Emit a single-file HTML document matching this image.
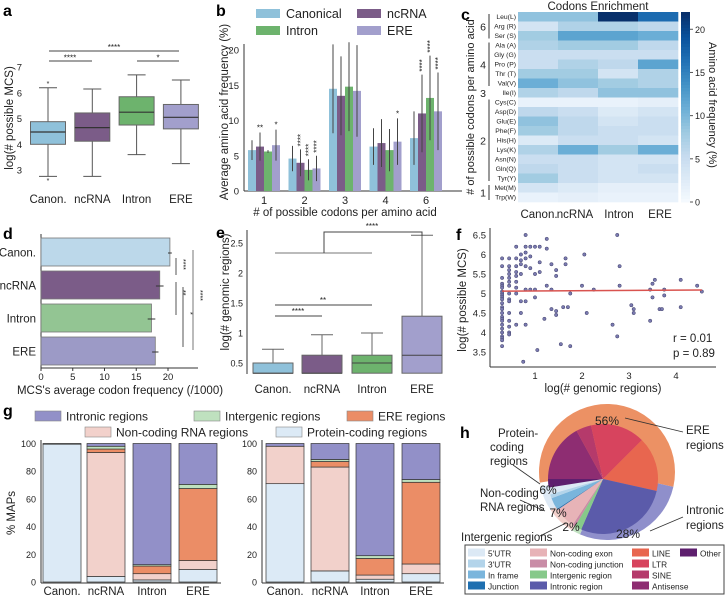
<!DOCTYPE html>
<html><head><meta charset="utf-8">
<style>
html,body{margin:0;padding:0;background:#fff;}
svg{display:block;font-family:"Liberation Sans",Arial,sans-serif;}
</style></head>
<body>
<svg id="fig" width="725" height="595" viewBox="0 0 725 595" xmlns="http://www.w3.org/2000/svg"></svg>
<script>
// ---------- DATA ----------
const aCats=['Canon.','ncRNA','Intron','ERE'];
const aQ1=[4.0,4.12,4.75,4.6];
const aMed=[4.48,4.65,5.25,5.05];
const aQ3=[4.88,5.22,5.85,5.55];
const aLo=[2.75,2.75,3.6,3.25];
const aHi=[6.2,6.15,6.7,6.5];
const aTicks=[3,4,5,6,7];

const bGroups=['1','2','3','4','6'];
const bCan=[5.8,4.6,14.5,6.3,7.5];
const bNc=[6.3,4.0,13.5,6.8,11.0];
const bInt=[5.6,3.0,14.8,5.8,13.2];
const bEre=[6.5,3.2,14.2,7.0,11.3];
const bCanErr=[1.4,1.8,6.3,2.6,3.8];
const bNcErr=[2.0,1.9,5.6,3.4,5.5];
const bIntErr=[0.2,1.5,6.3,3.0,6.0];
const bEreErr=[2.2,1.8,6.5,3.3,5.5];
const bNcStar=['**','****','','','****'];
const bIntStar=['','****','','','****'];
const bEreStar=['*','****','','*','****'];
const bTicks=[0,5,10,15,20];

const cRows=['Leu(L)','Arg (R)','Ser (S)','Ala (A)','Gly (G)','Pro (P)','Thr (T)','Val(V)','Ile(I)','Cys(C)','Asp(D)','Glu(E)','Phe(F)','His(H)','Lys(K)','Asn(N)','Gln(Q)','Tyr(Y)','Met(M)','Trp(W)'];
const cCols=['Canon.','ncRNA','Intron','ERE'];
const cCan=[9,4,8,7,5,5,8,11,7,1.5,6,9,8,3,7,5,6,8,4,1.5];
const cNc=[9,7,12,8,5,7,8,9,6,1.5,5,6,6,5,11,5,5,5,3,2];
const cInt=[22,7,12,8,5,6,4,8,9,1.5,3,4,5,5,8,4,4,4,2,1.5];
const cEre=[17,6,11,6,5,12,7,7,9,2,4,5,5,4,11,4,5,4,2,1.5];
const cTicks=[0,5,10,15,20];

const dCats=['Canon.','ncRNA','Intron','ERE'];
const dVals=[20.3,18.7,17.4,18.0];
const dErr=[0.3,0.6,0.6,0.5];
const dTicks=[0,5,10,15,20];

const eCats=['Canon.','ncRNA','Intron','ERE'];
const eQ1=[0.33,0.33,0.33,0.33];
const eMed=[0.33,0.33,0.5,0.63];
const eQ3=[0.5,0.63,0.63,1.28];
const eHi=[0.73,0.97,1.0,2.63];
const eTicks=[0.5,1,1.5,2,2.5];

const fx=[0.3,0.3,0.3,0.3,0.3,0.3,0.3,0.3,0.3,0.3,0.3,0.3,0.3,0.3,0.3,0.3,0.3,0.3,0.3,0.3,0.3,0.3,0.3,0.3,0.3,
0.45,0.45,0.45,0.45,0.45,0.45,0.45,0.45,0.45,0.45,0.45,0.45,0.45,0.45,0.45,
0.6,0.6,0.6,0.6,0.6,0.6,0.6,0.6,0.6,0.7,0.7,0.7,0.7,0.7,0.7,
0.8,0.8,0.8,0.8,0.8,0.8,0.8,0.8,0.75,0.9,0.9,0.9,0.9,1.0,1.0,1.0,1.0,1.05,1.1,1.1,1.1,
1.25,1.25,1.25,1.2,1.35,1.35,1.35,1.45,1.45,1.45,1.45,1.65,1.65,1.6,1.55,1.7,1.75,1.75,
2.05,2.0,2.1,2.25,2.65,2.75,2.75,2.8,2.8,3.05,3.1,3.1,3.45,3.45,3.5,3.5,3.55,3.65,3.7,3.75,3.75,4.1,4.1,4.45,4.55];
const fy=[5.9,5.7,5.4,5.25,5.2,5.15,5.05,5.0,4.95,4.9,4.85,4.75,4.65,4.6,4.5,4.4,4.35,4.3,4.2,4.1,4.0,3.9,3.85,3.8,3.65,
5.9,5.7,5.6,5.5,5.4,5.3,5.2,5.0,4.85,4.8,4.5,4.3,4.15,4.0,3.95,
6.2,5.9,5.7,5.55,5.45,5.3,5.15,5.0,4.2,5.85,5.75,5.5,4.8,4.5,6.0,
6.5,6.2,6.05,5.9,5.7,5.1,4.8,4.2,3.25,6.2,5.95,5.65,5.1,6.2,5.5,4.9,5.1,3.55,5.8,5.55,6.2,
6.4,6.15,5.2,4.35,4.6,5.1,5.75,5.6,5.45,4.55,4.45,5.9,5.75,4.65,3.7,4.65,3.65,5.0,
6.0,5.2,4.5,5.1,4.2,6.5,3.9,5.7,5.2,4.7,4.5,4.6,4.3,5.1,4.9,5.25,5.35,4.6,4.6,5.1,4.95,5.35,4.65,5.2,5.05];
const fTicksX=[1,2,3,4];
const fTicksY=[3.5,4,4.5,5,5.5,6,6.5];
const fFit=[5.06,5.09];

const gCats=['Canon.','ncRNA','Intron','ERE'];
const gProtL=[99.5,4,1.5,9];
const gNcL=[0,89.5,4.5,6.5];
const gEreL=[0,2.5,5.5,52];
const gIgL=[0,2,1,3];
const gIntrL=[0.5,2,87.5,29.5];
const gProtR=[71,8,2,6];
const gNcR=[27,75,3,7];
const gEreR=[0,4,12,59];
const gIgR=[0,1.5,2,2];
const gIntrR=[2,11.5,81,26];
const gTicks=[0,20,40,60,80,100];

const hOuterNames=['ERE','Intronic','Intergenic','Non-coding RNA','Protein-coding'];
const hOuterVals=[56,28,2,7,6];
const hInnerNames=['Other','Antisense','SINE','LTR','LINE','Intronic region','Intergenic region','Non-coding junction','Non-coding exon','Junction','In frame','3\'UTR','5\'UTR'];
const hInnerVals=[2.5,17,4.5,16,16,28,2,0.8,6.2,0.3,3.5,1.2,1.0];

// ---------- HELPERS ----------
const NS='http://www.w3.org/2000/svg';
const svg=document.getElementById('fig');
function mk(tag,a,p){const e=document.createElementNS(NS,tag);for(const k in a)e.setAttribute(k,a[k]);(p||svg).appendChild(e);return e;}
function tx(x,y,s,size,anchor,p,rot){const e=mk('text',{x:x,y:y,'font-size':size,'text-anchor':anchor||'middle',fill:'#222'},p);if(rot!==undefined)e.setAttribute('transform','rotate('+rot+' '+x+' '+y+')');e.textContent=s;return e;}
function grp(name){const g=mk('g',{});return g;}
const C4=['#8fc1da','#7b5c88','#6db36d','#a29fcc'];
const FS=11.5;

// panel letters
[['a',3,16],['b',216,16],['c',461,20],['d',3,239],['e',216,238],['f',456,240],['g',3,416],['h',460,438]].forEach(l=>{
 const t=tx(l[1],l[2],l[0],16,'start');t.setAttribute('font-weight','bold');t.setAttribute('fill','#000');
 
});

// ---------- PANEL A ----------
(function(){
 const g=grp('panel-a-boxplot');
 const ya=v=>170-(v-3)*25.7, xa=i=>48+i*44.3;
 aTicks.forEach(t=>{const e=tx(22,ya(t)+3.5,String(t),9.5,'end',g);});
 const yl=tx(13,118,'log(# possible MCS)',FS,'middle',g,-90);
 aCats.forEach((c,i)=>{
  const x=xa(i),w=35;
  mk('line',{x1:x,x2:x,y1:ya(aHi[i]),y2:ya(aQ3[i]),stroke:'#555','stroke-width':1},g);
  mk('line',{x1:x,x2:x,y1:ya(aQ1[i]),y2:ya(aLo[i]),stroke:'#555','stroke-width':1},g);
  mk('line',{x1:x-9,x2:x+9,y1:ya(aHi[i]),y2:ya(aHi[i]),stroke:'#555'},g);
  mk('line',{x1:x-9,x2:x+9,y1:ya(aLo[i]),y2:ya(aLo[i]),stroke:'#555'},g);
  const b=mk('rect',{x:x-w/2,y:ya(aQ3[i]),width:w,height:ya(aQ1[i])-ya(aQ3[i]),fill:C4[i],stroke:'#666','stroke-width':1},g);
  
  mk('line',{x1:x-w/2,x2:x+w/2,y1:ya(aMed[i]),y2:ya(aMed[i]),stroke:'#333','stroke-width':1.2},g);
  const l=tx(x,203,c,FS,'middle',g);
 });
 mk('line',{x1:49,x2:179,y1:51,y2:51,stroke:'#444'},g);tx(114,50,'****',8,'middle',g);
 mk('line',{x1:49,x2:92,y1:61,y2:61,stroke:'#444'},g);tx(70,60.5,'****',8,'middle',g);
 mk('line',{x1:137,x2:179,y1:61,y2:61,stroke:'#444'},g);tx(158,60.5,'*',8,'middle',g);
 tx(48,86,'*',7,'middle',g);tx(48,183,'*',7,'middle',g);
})();

// ---------- PANEL B ----------
(function(){
 const g=grp('panel-b-bar-chart');
 const yb=v=>191-v*7.05, xb=i=>264+i*40.5;
 mk('line',{x1:244,x2:244,y1:44,y2:191,stroke:'#333'},g);
 mk('line',{x1:244,x2:462,y1:191,y2:191,stroke:'#333'},g);
 bTicks.forEach(t=>{const e=tx(239,yb(t)+3.5,String(t),9.5,'end',g);});
 const series=[bCan,bNc,bInt,bEre],errs=[bCanErr,bNcErr,bIntErr,bEreErr],stars=[null,bNcStar,bIntStar,bEreStar];
 bGroups.forEach((gr,i)=>{
  series.forEach((s,j)=>{
   const x=xb(i)-16+j*8;
   const r=mk('rect',{x:x,y:yb(s[i]),width:8,height:yb(0)-yb(s[i]),fill:C4[j]},g);
   
   const cx=x+4,top=Math.max(yb(s[i]+errs[j][i]),40);
   mk('line',{x1:cx,x2:cx,y1:top,y2:yb(Math.max(0,s[i]-errs[j][i])),stroke:'#444','stroke-width':1},g);
   if(stars[j]&&stars[j][i]){
     if(stars[j][i].length>2) tx(cx+3,top-3,stars[j][i],8,'start',g,-90);
     else tx(cx,top-2,stars[j][i],8,'middle',g);
   }
  });
  const l=tx(xb(i),204,gr,11,'middle',g);
 });
 const xl=tx(345,216,'# of possible codons per amino acid',FS,'middle',g);
 const yl=tx(228,112,'Average amino acid frequency (%)',FS,'middle',g,-90);
 const leg=[['Canonical',256,13],['ncRNA',357,13],['Intron',256,30],['ERE',357,30]];
 leg.forEach((L,j)=>{
  const it=grp('b-legend-entry');
  mk('rect',{x:L[1],y:L[2]-4,width:24,height:9,fill:C4[j]},it);
  tx(L[1]+30,L[2]+5,L[0],12.5,'start',it);
 });
})();

// ---------- PANEL C ----------
(function(){
 const g=grp('panel-c-heatmap');
 const x0=518,w=40,y0=12,h=9.5,vmax=22;
 const stops=[[247,251,255],[222,235,247],[198,219,239],[158,202,225],[107,174,214],[66,146,198],[33,113,181],[8,81,156],[8,48,107]];
 function col(v){let t=Math.max(0,Math.min(1,v/vmax))*(stops.length-1);const i=Math.min(Math.floor(t),stops.length-2),f=t-i;const a=stops[i],b=stops[i+1];return 'rgb('+a.map((c,k)=>Math.round(c+(b[k]-c)*f)).join(',')+')';}
 const cols=[cCan,cNc,cInt,cEre];
 cols.forEach((arr,j)=>{
  arr.forEach((v,i)=>{
   const r=mk('rect',{x:x0+j*w,y:y0+i*h,width:w+0.3,height:h+0.3,fill:col(v)},g);
   
  });
  const l=tx([539,575,619,660][j],218,cCols[j],FS,'middle',g);
 });
 cRows.forEach((r,i)=>{const e=tx(516,y0+i*h+7,r,6.8,'end',g);});
 [['6',0,3],['4',3,8],['3',8,9],['2',9,18],['1',18,20]].forEach(G=>{
  const ya=y0+G[1]*h+2,yb2=y0+G[2]*h-2;
  if(G[0]!=='3')mk('line',{x1:489,x2:489,y1:ya,y2:yb2,stroke:'#333'},g);
  tx(483,(ya+yb2)/2+4,G[0],10.5,'middle',g);
 });
 const yl=tx(474,107,'# of possible codons per amino acid',11,'middle',g,-90);
 const t=tx(598,10,'Codons Enrichment',11.5,'middle',g);
 const cb=grp('c-colorbar');
 for(let k=0;k<60;k++){const v=vmax*(1-k/60);mk('rect',{x:681,y:y0+k*(190/60),width:9,height:190/60+0.4,fill:col(v)},cb);}
 cTicks.forEach(t2=>{const y=y0+190-t2/vmax*190;mk('line',{x1:690,x2:693,y1:y,y2:y,stroke:'#555'},cb);tx(695,y+3.5,String(t2),9,'start',cb);});
 const cl=tx(709,105,'Amino acid frequency (%)',11,'middle',cb,90);
})();

// ---------- PANEL D ----------
(function(){
 const g=grp('panel-d-bar-chart');
 const xd=v=>41+v*6.35;
 const ys=[238,271,304,337],bh=28;
 mk('line',{x1:41,x2:41,y1:234,y2:368,stroke:'#333'},g);
 mk('line',{x1:41,x2:198,y1:368,y2:368,stroke:'#333'},g);
 dTicks.forEach(t=>{const e=tx(xd(t),380,String(t),9.5,'middle',g);mk('line',{x1:xd(t),x2:xd(t),y1:368,y2:371,stroke:'#333'},g);});
 const dc=['#bcd8ea','#7b5c88','#93c593','#9c9ac6'];
 dCats.forEach((c,i)=>{
  const r=mk('rect',{x:41,y:ys[i],width:xd(dVals[i])-41,height:bh,fill:dc[i],stroke:'#777','stroke-width':0.8},g);
  
  const cy=ys[i]+bh/2+1;
  mk('line',{x1:xd(dVals[i]-dErr[i]),x2:xd(dVals[i]+dErr[i]),y1:cy,y2:cy,stroke:'#333'},g);
  const l=tx(36,ys[i]+bh/2+4.5,c,FS,'end',g);
 });
 mk('line',{x1:176,x2:176,y1:258,y2:275,stroke:'#555'},g);tx(181,259,'****',7,'start',g,90);
 mk('line',{x1:176,x2:176,y1:282,y2:315,stroke:'#555'},g);tx(181,290,'**',7,'start',g,90);
 mk('line',{x1:183,x2:183,y1:287,y2:347,stroke:'#555'},g);tx(188,312,'*',7,'start',g,90);
 mk('line',{x1:193,x2:193,y1:250,y2:350,stroke:'#777'},g);tx(198,290,'****',7,'start',g,90);
 const xl=tx(120,394,"MCS's average codon frequency (/1000)",FS,'middle',g);
})();

// ---------- PANEL E ----------
(function(){
 const g=grp('panel-e-boxplot');
 const ye=v=>363-(v-0.5)*60, xe=[273,322,372,422];
 mk('line',{x1:247,x2:247,y1:230,y2:374,stroke:'#333'},g);
 eTicks.forEach(t=>{const e=tx(243,ye(t)+3.5,String(t),9,'end',g);});
 eCats.forEach((c,i)=>{
  const x=xe[i],w=40;
  mk('line',{x1:x,x2:x,y1:ye(eHi[i]),y2:ye(eQ3[i]),stroke:'#666'},g);
  mk('line',{x1:x-11,x2:x+11,y1:ye(eHi[i]),y2:ye(eHi[i]),stroke:'#666'},g);
  const b=mk('rect',{x:x-w/2,y:ye(eQ3[i]),width:w,height:ye(eQ1[i])-ye(eQ3[i]),fill:C4[i],stroke:'#666'},g);
  
  mk('line',{x1:x-w/2,x2:x+w/2,y1:ye(eMed[i]),y2:ye(eMed[i]),stroke:'#444'},g);
  const l=tx(x,393,c,FS,'middle',g);
 });
 mk('polyline',{points:'275,253 372,253',stroke:'#777',fill:'none'},g);
 mk('polyline',{points:'324,253 324,232 422,232 422,236',stroke:'#444',fill:'none'},g);tx(372,229,'****',8,'middle',g);
 mk('line',{x1:275,x2:372,y1:305,y2:305,stroke:'#444'},g);tx(323,303,'**',8,'middle',g);
 mk('line',{x1:275,x2:322,y1:316,y2:316,stroke:'#444'},g);tx(298,314,'****',8,'middle',g);
 const yl=tx(229,292,'log(# genomic regions)',FS,'middle',g,-90);
})();

// ---------- PANEL F ----------
(function(){
 const g=grp('panel-f-scatter');
 const xf=v=>488+v*47, yf=v=>352-(v-3.5)*39;
 mk('line',{x1:490,x2:490,y1:228,y2:367,stroke:'#333'},g);
 mk('line',{x1:490,x2:716,y1:367,y2:367,stroke:'#333'},g);
 fTicksY.forEach(t=>{const e=tx(486,yf(t)+3.5,String(t),9.5,'end',g);});
 fTicksX.forEach(t=>{const e=tx(xf(t),379,String(t),9.5,'middle',g);});
 fx.forEach((v,i)=>{const c=mk('circle',{cx:xf(v),cy:yf(fy[i]),r:1.7,fill:'#7a7ab0',stroke:'#3c3c66','stroke-width':0.5},g);});
 const fl=mk('line',{x1:xf(0.3),x2:xf(4.55),y1:yf(fFit[0]),y2:yf(fFit[1]),stroke:'#d9534f','stroke-width':1.5},g);
 
 tx(673,342,'r = 0.01',FS,'start',g);tx(673,357,'p = 0.89',FS,'start',g);
 const xl=tx(603,392,'log(# genomic regions)',FS,'middle',g);
 const yl=tx(466,300,'log(# possible MCS)',FS,'middle',g,-90);
})();

// ---------- PANEL G ----------
(function(){
 const g=grp('panel-g-stacked-bars');
 const yg=v=>582-v*1.385;
 const gc=['#dceaf6','#f2d1cb','#eb8d66','#bfe1bf','#9290c8'];
 function chart(ax,bx,S,names){
  mk('line',{x1:ax,x2:ax,y1:440,y2:583,stroke:'#333'},g);
  mk('line',{x1:ax,x2:bx[3]+42,y1:583,y2:583,stroke:'#333'},g);
  gTicks.forEach(t=>{const e=tx(ax-5,yg(t)+3.5,String(t),9,'end',g);});
  gCats.forEach((c,i)=>{
   let acc=0;
   S.forEach((s,k)=>{
    if(s[i]<=0)return;
    const r=mk('rect',{x:bx[i],y:yg(acc+s[i]),width:38,height:yg(acc)-yg(acc+s[i]),fill:gc[k],stroke:'#333','stroke-width':0.7},g);
    
    acc+=s[i];
   });
   const l=tx(bx[i]+19,595,c,FS,'middle',g);
  });
 }
 const nm=['protein','ncrna','ere','intergenic','intronic'];
 chart(41,[43,87,133,179],[gProtL,gNcL,gEreL,gIgL,gIntrL],nm);
 chart(262,[266,311,356,402],[gProtR,gNcR,gEreR,gIgR,gIntrR],nm);
 const yl=tx(15,513,'% MAPs',FS,'middle',g,-90);
 [['Intronic regions',35,411,4],['Intergenic regions',194,411,3],['ERE regions',347,411,2],['Non-coding RNA regions',85,427,1],['Protein-coding regions',276,427,0]].forEach(L=>{
  const it=grp('g-legend-entry');
  mk('rect',{x:L[1],y:L[2],width:26,height:10,fill:gc[L[3]],stroke:'#888','stroke-width':0.6},it);
  tx(L[1]+31,L[2]+9.5,L[0],12,'start',it);
 });
})();

// ---------- PANEL H ----------
(function(){
 const g=grp('panel-h-pie');
 function arc(cx,cy,r,a0,a1,fill,parent){
  const rad=a=>(a-90)*Math.PI/180;
  const x0=cx+r*Math.cos(rad(a0)),y0=cy+r*Math.sin(rad(a0)),x1=cx+r*Math.cos(rad(a1)),y1=cy+r*Math.sin(rad(a1));
  return mk('path',{d:'M'+cx+','+cy+' L'+x0+','+y0+' A'+r+','+r+' 0 '+((a1-a0)>180?1:0)+' 1 '+x1+','+y1+' Z',fill:fill},parent);
 }
 const oc=['#ec9164','#8f8fcb','#bfe0bf','#f2d0cb','#dde9f5'];
 const ic=['#5e1f6e','#8e2d72','#b53a6b','#d7445e','#e8664f','#5b5baa','#86c98a','#c98ca6','#e7b3b7','#1f6fb0','#7ab5dc','#b3d4ea','#dce9f5'];
 let a=261;
 hOuterVals.forEach((v,i)=>{const s=arc(607,472,68,a,a+v*3.6,oc[i],g);a+=v*3.6;});
 a=261;
 hInnerVals.forEach((v,i)=>{const s=arc(603,479,55,a,a+v*3.6,ic[i],g);a+=v*3.6;});
 tx(607,425,'56%',12,'middle',g);tx(548,494,'6%',12,'middle',g);tx(558,517,'7%',12,'middle',g);tx(571,531,'2%',12,'middle',g);tx(628,538,'28%',12,'middle',g);
 [[625,418,683,432],[513,465,540,484],[520,500,545,511],[540,536,566,523],[650,531,683,517]].forEach(L=>mk('line',{x1:L[0],y1:L[1],x2:L[2],y2:L[3],stroke:'#333','stroke-width':0.8},g));
 [['Protein-',498,437],['coding',490,451],['regions',490,465],['Non-coding',480,497],['RNA regions',480,511],['Intergenic regions',461,541],['ERE',686,434],['regions',686,449],['Intronic',686,514],['regions',686,529]].forEach(L=>tx(L[1],L[2],L[0],11.5,'start',g));
 const lg=grp('h-legend');
 mk('rect',{x:465,y:545,width:259,height:49,fill:'#fff',stroke:'#444','stroke-width':1},lg);
 const items=[['5\'UTR',12,468,553],['3\'UTR',11,468,564],['In frame',10,468,575],['Junction',9,468,586],
  ['Non-coding exon',8,530,553],['Non-coding junction',7,530,564],['Intergenic region',6,530,575],['Intronic region',5,530,586],
  ['LINE',4,632,553],['LTR',3,632,564],['SINE',2,632,575],['Antisense',1,632,586],['Other',0,680,553]];
 items.forEach(L=>{
  const it=grp('h-legend-entry');
  mk('rect',{x:L[2],y:L[3]-4.5,width:17,height:8,fill:ic[L[1]]},it);
  tx(L[2]+20,L[3]+3.5,L[0],8.3,'start',it);
 });
})();
</script>
</body></html>
